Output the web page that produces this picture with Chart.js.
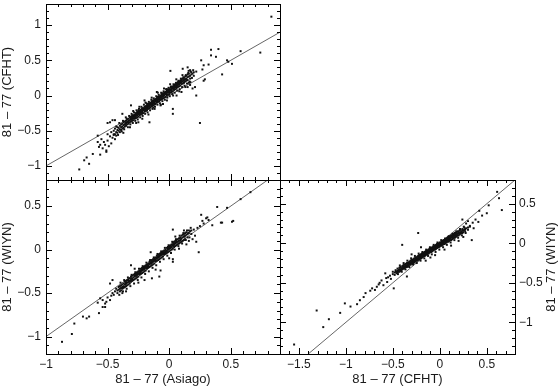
<!DOCTYPE html>
<html>
<head>
<meta charset="utf-8">
<script src="https://cdn.jsdelivr.net/npm/chart.js@4/dist/chart.umd.min.js"></script>
<style>
  html, body { margin: 0; padding: 0; background: #fff; }
  body { width: 560px; height: 391px; position: relative; overflow: hidden; }
  .panel { position: absolute; }
</style>
</head>
<body>
<div class="panel" style="left:0;top:0;width:290px;height:190px"><canvas id="c1" width="290" height="190"></canvas></div>
<div class="panel" style="left:0;top:170px;width:290px;height:221px"><canvas id="c2" width="290" height="221"></canvas></div>
<div class="panel" style="left:270px;top:170px;width:290px;height:221px"><canvas id="c3" width="290" height="221"></canvas></div>
<script>
// ---------- data ----------
const titleAsiago = '81 – 77 (Asiago)';
const titleCFHT = '81 – 77 (CFHT)';
const titleWIYN = '81 – 77 (WIYN)';

const asiagoRange = [-1, 0.9];
const cfhtYRange = [-1.2, 1.3];
const wiynYRangeA = [-1.2, 0.8];
const cfhtXRange = [-1.7, 0.8];
const wiynYRangeB = [-1.4, 0.8];

// 1:1 reference line
const identityLine = [-2, 2];

// Panel 1: x = Asiago, y = CFHT
const cfhtVsAsiago = [
[-0.45,-0.50],[-0.45,-0.56],[-0.44,-0.47],[-0.44,-0.55],[-0.43,-0.52],[-0.43,-0.44],[-0.42,-0.49],[-0.42,-0.53],[-0.42,-0.45],
[-0.41,-0.50],[-0.41,-0.46],[-0.40,-0.43],[-0.40,-0.48],[-0.40,-0.52],[-0.39,-0.45],[-0.39,-0.41],[-0.39,-0.49],
[-0.38,-0.40],[-0.38,-0.44],[-0.38,-0.47],[-0.37,-0.42],[-0.37,-0.38],[-0.37,-0.46],[-0.36,-0.41],[-0.36,-0.37],[-0.36,-0.44],
[-0.35,-0.39],[-0.35,-0.36],[-0.35,-0.43],[-0.35,-0.40],[-0.34,-0.38],[-0.34,-0.34],[-0.34,-0.41],
[-0.33,-0.36],[-0.33,-0.33],[-0.33,-0.40],[-0.33,-0.38],[-0.32,-0.35],[-0.32,-0.31],[-0.32,-0.38],
[-0.31,-0.34],[-0.31,-0.30],[-0.31,-0.37],[-0.31,-0.32],[-0.30,-0.33],[-0.30,-0.29],[-0.30,-0.36],[-0.30,-0.31],
[-0.29,-0.32],[-0.29,-0.28],[-0.29,-0.35],[-0.29,-0.30],[-0.28,-0.30],[-0.28,-0.27],[-0.28,-0.33],[-0.28,-0.29],
[-0.27,-0.29],[-0.27,-0.25],[-0.27,-0.32],[-0.27,-0.27],[-0.26,-0.28],[-0.26,-0.24],[-0.26,-0.31],[-0.26,-0.26],
[-0.25,-0.27],[-0.25,-0.23],[-0.25,-0.30],[-0.25,-0.25],[-0.25,-0.21],[-0.24,-0.25],[-0.24,-0.22],[-0.24,-0.28],[-0.24,-0.24],
[-0.23,-0.24],[-0.23,-0.20],[-0.23,-0.27],[-0.23,-0.22],[-0.22,-0.23],[-0.22,-0.19],[-0.22,-0.26],[-0.22,-0.21],[-0.22,-0.24],
[-0.21,-0.21],[-0.21,-0.18],[-0.21,-0.25],[-0.21,-0.20],[-0.20,-0.20],[-0.20,-0.16],[-0.20,-0.23],[-0.20,-0.18],[-0.20,-0.21],
[-0.19,-0.19],[-0.19,-0.15],[-0.19,-0.22],[-0.19,-0.17],[-0.18,-0.17],[-0.18,-0.14],[-0.18,-0.21],[-0.18,-0.16],[-0.18,-0.19],
[-0.17,-0.16],[-0.17,-0.12],[-0.17,-0.19],[-0.17,-0.14],[-0.16,-0.15],[-0.16,-0.11],[-0.16,-0.18],[-0.16,-0.13],[-0.16,-0.16],
[-0.15,-0.13],[-0.15,-0.10],[-0.15,-0.17],[-0.15,-0.12],[-0.14,-0.12],[-0.14,-0.09],[-0.14,-0.15],[-0.14,-0.11],[-0.14,-0.13],
[-0.13,-0.11],[-0.13,-0.07],[-0.13,-0.14],[-0.13,-0.09],[-0.12,-0.10],[-0.12,-0.06],[-0.12,-0.13],[-0.12,-0.08],[-0.12,-0.11],
[-0.11,-0.08],[-0.11,-0.05],[-0.11,-0.12],[-0.11,-0.07],[-0.10,-0.07],[-0.10,-0.04],[-0.10,-0.10],[-0.10,-0.06],[-0.10,-0.08],
[-0.09,-0.06],[-0.09,-0.02],[-0.09,-0.09],[-0.09,-0.04],[-0.08,-0.04],[-0.08,-0.01],[-0.08,-0.08],[-0.08,-0.03],[-0.08,-0.06],
[-0.07,-0.03],[-0.07,0.00],[-0.07,-0.06],[-0.07,-0.02],[-0.06,-0.02],[-0.06,0.02],[-0.06,-0.05],[-0.06,-0.01],[-0.06,0.00],
[-0.05,-0.01],[-0.05,0.03],[-0.05,-0.04],[-0.05,0.01],[-0.04,0.01],[-0.04,0.04],[-0.04,-0.03],[-0.04,0.02],[-0.04,0.00],
[-0.03,0.02],[-0.03,0.05],[-0.03,-0.02],[-0.03,0.03],[-0.02,0.03],[-0.02,0.07],[-0.02,0.00],[-0.02,0.05],[-0.02,0.02],
[-0.01,0.05],[-0.01,0.08],[-0.01,0.01],[-0.01,0.06],[0.00,0.06],[0.00,0.09],[0.00,0.02],[0.00,0.07],[0.00,0.04],
[0.01,0.07],[0.01,0.11],[0.01,0.04],[0.01,0.08],[0.02,0.09],[0.02,0.12],[0.02,0.05],[0.02,0.10],[0.02,0.07],
[0.03,0.10],[0.03,0.13],[0.03,0.06],[0.03,0.11],[0.04,0.11],[0.04,0.15],[0.04,0.08],[0.04,0.13],[0.04,0.09],
[0.05,0.12],[0.05,0.16],[0.05,0.09],[0.05,0.14],[0.06,0.14],[0.06,0.17],[0.06,0.10],[0.06,0.15],[0.06,0.12],
[0.07,0.15],[0.07,0.19],[0.07,0.12],[0.07,0.17],[0.08,0.16],[0.08,0.20],[0.08,0.13],[0.08,0.18],
[0.09,0.18],[0.09,0.21],[0.09,0.14],[0.09,0.19],[0.10,0.19],[0.10,0.23],[0.10,0.16],[0.10,0.21],
[0.11,0.20],[0.11,0.24],[0.11,0.17],[0.12,0.22],[0.12,0.25],[0.12,0.18],[0.13,0.23],[0.13,0.27],[0.13,0.20],
[0.14,0.24],[0.14,0.28],[0.14,0.21],[0.15,0.26],[0.15,0.30],[0.15,0.22],[0.16,0.27],[0.16,0.31],[0.17,0.28],[0.17,0.24],
[0.18,0.30],[0.18,0.33],[0.19,0.31],[0.20,0.33],[0.20,0.28],[0.22,0.34],
[-0.415,-0.56],[-0.405,-0.39],[-0.385,-0.51],[-0.375,-0.36],[-0.365,-0.48],[-0.345,-0.33],[-0.335,-0.45],[-0.325,-0.29],
[-0.315,-0.41],[-0.305,-0.26],[-0.295,-0.39],[-0.285,-0.24],[-0.275,-0.36],[-0.265,-0.21],[-0.255,-0.34],[-0.245,-0.19],
[-0.235,-0.31],[-0.225,-0.16],[-0.215,-0.29],[-0.205,-0.13],[-0.195,-0.26],[-0.185,-0.11],[-0.175,-0.24],[-0.165,-0.09],
[-0.155,-0.21],[-0.145,-0.06],[-0.135,-0.19],[-0.125,-0.04],[-0.115,-0.16],[-0.105,-0.01],[-0.095,-0.13],[-0.085,0.01],
[-0.075,-0.11],[-0.065,0.04],[-0.055,-0.08],[-0.045,0.06],[-0.035,-0.06],[-0.025,0.09],[-0.015,-0.03],[-0.005,0.11],
[0.005,-0.01],[0.015,0.13],[0.025,0.02],[0.035,0.16],[0.045,0.04],[0.055,0.18],[0.065,0.07],[0.075,0.21],[0.085,0.09],
[0.095,0.24],[0.105,0.12],[0.115,0.26],[0.125,0.14],[0.135,0.29],[0.145,0.17],[0.155,0.32],[0.165,0.20],[0.175,0.34],
[0.185,0.25],[0.195,0.36],
[-0.355,-0.40],[-0.305,-0.34],[-0.265,-0.28],[-0.225,-0.22],[-0.185,-0.18],[-0.145,-0.12],[-0.105,-0.07],[-0.065,-0.03],
[-0.025,0.03],[0.015,0.08],[0.055,0.13],[0.095,0.18],[0.135,0.23],[-0.335,-0.37],[-0.245,-0.26],[-0.165,-0.15],[-0.085,-0.05],
[-0.005,0.05],[0.075,0.16],
[-0.372,-0.53],[-0.352,-0.31],[-0.318,-0.45],[-0.292,-0.22],[-0.268,-0.39],[-0.242,-0.16],[-0.218,-0.33],[-0.192,-0.10],
[-0.168,-0.27],[-0.142,-0.03],[-0.118,-0.19],[-0.092,0.04],[-0.068,-0.13],[-0.042,0.10],[-0.018,-0.07],[0.008,0.16],
[0.032,0.00],[0.058,0.23],[0.082,0.06],[0.108,0.29],[0.132,0.12],[0.158,0.35],[0.172,0.19],
[-0.278,-0.31],[-0.238,-0.25],[-0.198,-0.20],[-0.158,-0.14],[-0.118,-0.09],[-0.078,-0.04],[-0.038,0.02],[0.002,0.07],
[0.042,0.12],[0.082,0.17],[-0.298,-0.28],[-0.258,-0.23],[-0.218,-0.18],[-0.178,-0.12],[-0.138,-0.08],[-0.098,-0.02],
[-0.058,0.03],[-0.018,0.09],[0.022,0.11],[0.062,0.15],[0.102,0.22],[0.122,0.19],
[0.83,1.12],[0.74,0.61],[0.58,0.63],[0.51,0.45],[0.48,0.48],[0.43,0.30],[0.40,0.66],[0.34,0.65],[0.38,0.55],[0.28,0.21],
[0.26,0.50],[0.22,0.00],[0.25,-0.39],[0.03,-0.26],[0.03,-0.19],[0.01,0.35],[0.34,0.57],[0.28,0.43],[0.32,0.44],[0.27,0.37],
[0.47,0.50],[0.29,0.23],[0.11,0.38],[0.15,0.40],[0.17,0.36],
[-0.13,-0.17],[-0.07,-0.14],[-0.16,-0.38],[-0.31,-0.14],[-0.38,-0.26],[-0.46,-0.35],[-0.48,-0.38],[-0.20,-0.07],[0.15,0.12],
[0.17,0.15],[0.19,0.10],[0.16,0.18],[0.21,0.12],[0.10,0.05],[-0.05,-0.12],[0.06,0.00],[-0.25,-0.38],[-0.10,0.05],
[-0.55,-0.62],[-0.53,-0.66],[-0.52,-0.70],[-0.50,-0.64],[-0.49,-0.72],[-0.54,-0.75],[-0.51,-0.78],[-0.47,-0.68],[-0.46,-0.60],
[-0.48,-0.58],[-0.44,-0.62],[-0.50,-0.55],[-0.56,-0.70],[-0.58,-0.66],[-0.45,-0.55],[-0.43,-0.57],[-0.47,-0.52],
[-0.73,-1.05],[-0.69,-0.92],[-0.65,-0.97],[-0.67,-0.88],[-0.62,-0.83],[-0.57,-0.73],[-0.56,-0.84],[-0.51,-0.80],[-0.58,-0.57],
[-0.50,-0.39],[-0.44,-0.35]
];

// Panel 2: x = Asiago, y = WIYN
const wiynVsAsiago = [
[-0.42,-0.47],[-0.42,-0.50],[-0.41,-0.46],[-0.41,-0.43],[-0.40,-0.45],[-0.40,-0.48],[-0.40,-0.42],[-0.39,-0.44],[-0.39,-0.41],[-0.39,-0.47],
[-0.38,-0.43],[-0.38,-0.40],[-0.38,-0.45],[-0.37,-0.42],[-0.37,-0.39],[-0.37,-0.44],[-0.36,-0.40],[-0.36,-0.37],[-0.36,-0.43],
[-0.35,-0.39],[-0.35,-0.36],[-0.35,-0.42],[-0.35,-0.38],[-0.34,-0.38],[-0.34,-0.35],[-0.34,-0.41],
[-0.33,-0.37],[-0.33,-0.34],[-0.33,-0.40],[-0.33,-0.36],[-0.32,-0.36],[-0.32,-0.33],[-0.32,-0.39],
[-0.31,-0.35],[-0.31,-0.31],[-0.31,-0.37],[-0.31,-0.33],[-0.30,-0.33],[-0.30,-0.30],[-0.30,-0.36],[-0.30,-0.34],
[-0.29,-0.32],[-0.29,-0.29],[-0.29,-0.35],[-0.28,-0.31],[-0.28,-0.28],[-0.28,-0.34],[-0.28,-0.30],
[-0.27,-0.30],[-0.27,-0.27],[-0.27,-0.33],[-0.27,-0.29],[-0.26,-0.29],[-0.26,-0.26],[-0.26,-0.32],[-0.26,-0.28],
[-0.25,-0.28],[-0.25,-0.25],[-0.25,-0.31],[-0.25,-0.27],[-0.24,-0.27],[-0.24,-0.24],[-0.24,-0.29],[-0.24,-0.25],
[-0.23,-0.25],[-0.23,-0.22],[-0.23,-0.28],[-0.23,-0.24],[-0.22,-0.24],[-0.22,-0.21],[-0.22,-0.27],[-0.22,-0.23],
[-0.21,-0.23],[-0.21,-0.20],[-0.21,-0.26],[-0.21,-0.22],[-0.20,-0.22],[-0.20,-0.19],[-0.20,-0.25],[-0.20,-0.21],
[-0.19,-0.21],[-0.19,-0.18],[-0.19,-0.24],[-0.19,-0.20],[-0.18,-0.20],[-0.18,-0.17],[-0.18,-0.22],[-0.18,-0.19],
[-0.17,-0.19],[-0.17,-0.16],[-0.17,-0.21],[-0.17,-0.18],[-0.16,-0.17],[-0.16,-0.14],[-0.16,-0.20],[-0.16,-0.16],
[-0.15,-0.16],[-0.15,-0.13],[-0.15,-0.19],[-0.15,-0.15],[-0.14,-0.15],[-0.14,-0.12],[-0.14,-0.18],[-0.14,-0.14],
[-0.13,-0.14],[-0.13,-0.11],[-0.13,-0.17],[-0.13,-0.13],[-0.12,-0.13],[-0.12,-0.10],[-0.12,-0.16],[-0.12,-0.12],
[-0.11,-0.12],[-0.11,-0.09],[-0.11,-0.14],[-0.11,-0.11],[-0.10,-0.10],[-0.10,-0.07],[-0.10,-0.13],[-0.10,-0.09],
[-0.09,-0.09],[-0.09,-0.06],[-0.09,-0.12],[-0.09,-0.08],[-0.08,-0.08],[-0.08,-0.05],[-0.08,-0.11],[-0.08,-0.07],
[-0.07,-0.07],[-0.07,-0.04],[-0.07,-0.10],[-0.07,-0.06],[-0.06,-0.06],[-0.06,-0.03],[-0.06,-0.09],[-0.06,-0.05],
[-0.05,-0.05],[-0.05,-0.02],[-0.05,-0.08],[-0.05,-0.04],[-0.04,-0.04],[-0.04,-0.01],[-0.04,-0.06],[-0.04,-0.03],
[-0.03,-0.02],[-0.03,0.00],[-0.03,-0.05],[-0.03,-0.03],[-0.02,-0.01],[-0.02,0.02],[-0.02,-0.04],[-0.02,-0.02],
[-0.01,0.00],[-0.01,0.03],[-0.01,-0.03],[-0.01,0.01],[0.00,0.01],[0.00,0.04],[0.00,-0.02],[0.00,0.02],
[0.01,0.02],[0.01,0.05],[0.01,-0.01],[0.01,0.03],[0.02,0.03],[0.02,0.06],[0.02,0.00],[0.02,0.04],
[0.03,0.05],[0.03,0.08],[0.03,0.01],[0.03,0.06],[0.04,0.06],[0.04,0.09],[0.04,0.03],[0.04,0.07],
[0.05,0.07],[0.05,0.10],[0.05,0.04],[0.05,0.08],[0.06,0.08],[0.06,0.11],[0.06,0.05],[0.06,0.09],
[0.07,0.09],[0.07,0.12],[0.07,0.06],[0.08,0.10],[0.08,0.13],[0.08,0.07],[0.09,0.11],[0.09,0.14],[0.09,0.08],
[0.10,0.13],[0.10,0.16],[0.10,0.09],[0.11,0.14],[0.11,0.17],[0.11,0.10],[0.12,0.15],[0.12,0.18],[0.12,0.11],
[0.13,0.16],[0.13,0.19],[0.13,0.12],[0.14,0.17],[0.14,0.20],[0.15,0.18],[0.15,0.14],[0.16,0.19],[0.16,0.22],
[0.17,0.21],[0.18,0.22],[0.18,0.18],[0.20,0.23],
[-0.405,-0.52],[-0.395,-0.38],[-0.375,-0.48],[-0.365,-0.35],[-0.345,-0.45],[-0.335,-0.32],[-0.315,-0.42],[-0.305,-0.29],
[-0.285,-0.39],[-0.275,-0.26],[-0.255,-0.35],[-0.245,-0.22],[-0.225,-0.32],[-0.215,-0.19],[-0.195,-0.28],[-0.185,-0.15],
[-0.165,-0.25],[-0.155,-0.12],[-0.135,-0.21],[-0.125,-0.09],[-0.105,-0.18],[-0.095,-0.05],[-0.075,-0.14],[-0.065,-0.02],
[-0.045,-0.11],[-0.035,0.02],[-0.015,-0.07],[-0.005,0.05],[0.015,-0.04],[0.025,0.09],[0.045,0.00],[0.055,0.12],
[0.075,0.04],[0.085,0.16],[0.105,0.07],[0.115,0.19],[0.135,0.11],[0.145,0.22],[0.165,0.14],[0.175,0.25],
[-0.385,-0.44],[-0.325,-0.37],[-0.265,-0.30],[-0.205,-0.23],[-0.145,-0.16],[-0.085,-0.09],[-0.025,-0.02],[0.035,0.05],
[0.095,0.12],[0.155,0.19],[-0.355,-0.40],[-0.235,-0.26],[-0.115,-0.12],[0.005,0.02],[0.125,0.15],
[-0.46,-0.35],[-0.31,-0.18],[-0.15,-0.03],[0.03,0.23],[-0.14,-0.33],[-0.07,-0.24],[0.03,-0.14],[0.03,-0.11],[-0.20,-0.35],
[0.00,-0.10],[-0.11,-0.23],[-0.08,-0.31],[0.22,0.09],[0.24,-0.03],[0.19,0.12],[0.16,0.10],[0.21,0.16],[0.12,0.22],[0.05,0.15],
[-0.25,-0.38],[-0.35,-0.48],[-0.28,-0.22],[-0.38,-0.50],[0.08,0.01],[0.14,0.06],
[0.26,0.40],[0.30,0.36],[0.32,0.34],[0.35,0.28],[0.39,0.49],[0.42,0.31],[0.47,0.48],[0.51,0.32],[0.58,0.58],[0.66,0.66],
[0.27,0.33],[0.31,0.37],[0.25,0.27],[0.23,0.25],[0.28,0.30],[0.52,0.33],[0.43,0.31],
[-0.87,-1.06],[-0.79,-0.97],[-0.77,-0.85],[-0.70,-0.77],[-0.67,-0.79],[-0.65,-0.77],[-0.57,-0.73],[-0.58,-0.61],[-0.54,-0.58],
[-0.52,-0.62],[-0.51,-0.60],[-0.48,-0.58],[-0.52,-0.66],[-0.47,-0.53],[-0.44,-0.48],[-0.48,-0.39],[-0.54,-0.66],[-0.56,-0.56],
[-0.50,-0.55],[-0.45,-0.52],[-0.43,-0.45],[-0.46,-0.50]
];

// Panel 3: x = CFHT, y = WIYN
const wiynVsCfht = [
[-0.50,-0.39],[-0.50,-0.36],[-0.48,-0.37],[-0.48,-0.40],[-0.47,-0.36],[-0.47,-0.34],[-0.46,-0.36],[-0.46,-0.38],
[-0.45,-0.35],[-0.45,-0.32],[-0.45,-0.37],[-0.44,-0.34],[-0.44,-0.36],[-0.43,-0.33],[-0.43,-0.31],[-0.43,-0.36],
[-0.42,-0.33],[-0.42,-0.35],[-0.42,-0.30],[-0.41,-0.32],[-0.41,-0.34],[-0.40,-0.31],[-0.40,-0.29],[-0.40,-0.33],
[-0.39,-0.30],[-0.39,-0.32],[-0.39,-0.28],[-0.38,-0.30],[-0.38,-0.27],[-0.38,-0.32],[-0.37,-0.29],[-0.37,-0.31],[-0.37,-0.27],
[-0.36,-0.28],[-0.36,-0.26],[-0.36,-0.30],[-0.35,-0.28],[-0.35,-0.25],[-0.35,-0.30],[-0.34,-0.27],[-0.34,-0.29],[-0.34,-0.25],
[-0.33,-0.26],[-0.33,-0.24],[-0.33,-0.28],[-0.32,-0.25],[-0.32,-0.27],[-0.32,-0.23],[-0.31,-0.25],[-0.31,-0.22],[-0.31,-0.27],
[-0.30,-0.24],[-0.30,-0.21],[-0.30,-0.26],[-0.30,-0.23],[-0.29,-0.23],[-0.29,-0.25],[-0.29,-0.21],
[-0.28,-0.22],[-0.28,-0.20],[-0.28,-0.25],[-0.28,-0.23],[-0.27,-0.22],[-0.27,-0.19],[-0.27,-0.24],
[-0.26,-0.21],[-0.26,-0.18],[-0.26,-0.23],[-0.26,-0.20],[-0.25,-0.20],[-0.25,-0.18],[-0.25,-0.22],
[-0.24,-0.20],[-0.24,-0.17],[-0.24,-0.22],[-0.24,-0.19],[-0.23,-0.19],[-0.23,-0.16],[-0.23,-0.21],
[-0.22,-0.18],[-0.22,-0.15],[-0.22,-0.20],[-0.22,-0.17],[-0.21,-0.17],[-0.21,-0.15],[-0.21,-0.19],
[-0.20,-0.17],[-0.20,-0.14],[-0.20,-0.19],[-0.20,-0.16],[-0.19,-0.16],[-0.19,-0.13],[-0.19,-0.18],
[-0.18,-0.15],[-0.18,-0.12],[-0.18,-0.17],[-0.18,-0.14],[-0.17,-0.14],[-0.17,-0.12],[-0.17,-0.16],
[-0.16,-0.14],[-0.16,-0.11],[-0.16,-0.16],[-0.16,-0.13],[-0.15,-0.13],[-0.15,-0.10],[-0.15,-0.15],[-0.15,-0.12],
[-0.14,-0.12],[-0.14,-0.09],[-0.14,-0.14],[-0.14,-0.11],[-0.13,-0.12],[-0.13,-0.09],[-0.13,-0.14],[-0.13,-0.11],
[-0.12,-0.11],[-0.12,-0.08],[-0.12,-0.13],[-0.12,-0.10],[-0.11,-0.10],[-0.11,-0.07],[-0.11,-0.12],[-0.11,-0.09],
[-0.10,-0.09],[-0.10,-0.06],[-0.10,-0.11],[-0.10,-0.08],[-0.09,-0.09],[-0.09,-0.06],[-0.09,-0.11],[-0.09,-0.07],
[-0.08,-0.08],[-0.08,-0.05],[-0.08,-0.10],[-0.08,-0.07],[-0.07,-0.07],[-0.07,-0.04],[-0.07,-0.09],[-0.07,-0.06],
[-0.06,-0.06],[-0.06,-0.04],[-0.06,-0.08],[-0.06,-0.05],[-0.05,-0.06],[-0.05,-0.03],[-0.05,-0.08],[-0.05,-0.05],
[-0.04,-0.05],[-0.04,-0.02],[-0.04,-0.07],[-0.04,-0.04],[-0.03,-0.04],[-0.03,-0.01],[-0.03,-0.06],[-0.03,-0.03],
[-0.02,-0.03],[-0.02,-0.01],[-0.02,-0.05],[-0.02,-0.02],[-0.01,-0.03],[-0.01,0.00],[-0.01,-0.05],[-0.01,-0.02],
[0.00,-0.02],[0.00,0.01],[0.00,-0.04],[0.00,-0.01],[0.01,-0.01],[0.01,0.01],[0.01,-0.03],[0.01,0.00],
[0.02,-0.01],[0.02,0.02],[0.02,-0.03],[0.02,0.00],[0.03,0.00],[0.03,0.03],[0.03,-0.02],[0.03,0.01],
[0.04,0.01],[0.04,0.04],[0.04,-0.01],[0.04,0.02],[0.05,0.02],[0.05,0.04],[0.05,-0.01],[0.05,0.03],
[0.06,0.02],[0.06,0.05],[0.06,0.00],[0.06,0.03],[0.07,0.03],[0.07,0.06],[0.07,0.01],[0.07,0.04],
[0.08,0.04],[0.08,0.07],[0.08,0.02],[0.08,0.05],[0.09,0.05],[0.09,0.08],[0.09,0.02],[0.09,0.06],
[0.10,0.05],[0.10,0.08],[0.10,0.03],[0.10,0.06],[0.11,0.06],[0.11,0.09],[0.11,0.04],[0.11,0.07],
[0.12,0.07],[0.12,0.10],[0.12,0.04],[0.12,0.08],[0.13,0.08],[0.13,0.10],[0.13,0.05],[0.13,0.09],
[0.14,0.08],[0.14,0.11],[0.14,0.06],[0.14,0.09],[0.15,0.09],[0.15,0.12],[0.15,0.07],[0.15,0.10],
[0.16,0.10],[0.16,0.13],[0.16,0.07],[0.16,0.11],[0.17,0.10],[0.17,0.13],[0.17,0.08],
[0.18,0.11],[0.18,0.14],[0.18,0.09],[0.18,0.12],[0.19,0.12],[0.19,0.15],[0.19,0.10],
[0.20,0.13],[0.20,0.15],[0.20,0.10],[0.21,0.13],[0.21,0.16],[0.21,0.11],[0.22,0.14],[0.22,0.17],[0.22,0.12],
[0.23,0.15],[0.23,0.13],[0.24,0.16],[0.24,0.18],[0.24,0.13],[0.25,0.16],[0.25,0.14],[0.26,0.17],[0.26,0.20],
[0.27,0.18],[0.27,0.15],[0.28,0.19],[0.30,0.20],[0.30,0.17],[0.32,0.21],
[-0.445,-0.39],[-0.425,-0.28],[-0.405,-0.36],[-0.385,-0.25],[-0.365,-0.33],[-0.345,-0.22],[-0.325,-0.30],[-0.305,-0.19],
[-0.285,-0.27],[-0.265,-0.16],[-0.245,-0.25],[-0.225,-0.13],[-0.205,-0.22],[-0.185,-0.11],[-0.165,-0.19],[-0.145,-0.08],
[-0.125,-0.16],[-0.105,-0.05],[-0.085,-0.14],[-0.065,-0.02],[-0.045,-0.11],[-0.025,0.01],[-0.005,-0.08],[0.015,0.04],
[0.035,-0.05],[0.055,0.06],[0.075,-0.02],[0.095,0.09],[0.115,0.01],[0.135,0.12],[0.155,0.04],[0.175,0.15],[0.195,0.07],
[0.215,0.18],[0.235,0.10],[0.255,0.21],[0.275,0.13],
[-0.435,-0.34],[-0.395,-0.31],[-0.335,-0.27],[-0.275,-0.22],[-0.215,-0.18],[-0.155,-0.13],[-0.095,-0.09],[-0.035,-0.05],
[0.025,-0.01],[0.085,0.04],[0.145,0.08],[0.205,0.13],[0.265,0.17],[-0.305,-0.24],[-0.185,-0.16],[-0.065,-0.07],[0.055,0.02],
[0.175,0.11],
[-0.40,-0.02],[-0.23,0.13],[-0.58,-0.38],[-0.49,-0.57],[-0.35,-0.42],[0.34,0.04],[0.24,0.30],[0.36,0.19],[0.32,0.22],
[0.41,0.27],[0.42,0.41],[0.50,0.38],[0.52,0.48],[0.63,0.57],[0.66,0.42],[0.61,0.65],[0.28,0.25],[0.30,0.28],[0.35,0.26],
[0.38,0.30],[0.45,0.35],[-0.10,-0.18],[-0.05,-0.15],[0.12,-0.03],[0.20,0.03],[0.25,0.08],[-0.20,-0.05],[-0.30,-0.14],
[-0.15,-0.22],[0.05,-0.08],
[-1.55,-1.28],[-1.31,-0.85],[-1.24,-1.06],[-1.18,-0.96],[-1.06,-0.88],[-1.01,-0.76],[-0.95,-0.80],[-0.88,-0.77],[-0.85,-0.72],
[-0.81,-0.68],[-0.79,-0.63],[-0.74,-0.60],[-0.72,-0.57],[-0.69,-0.59],[-0.67,-0.55],[-0.60,-0.53],[-0.56,-0.49],[-0.64,-0.50],
[-0.62,-0.47],[-0.55,-0.43],[-0.53,-0.41],[-0.52,-0.45],[-0.57,-0.44],[-0.65,-0.52]
];

// ---------- rendering ----------
const FONT = 'Liberation Sans, Arial, Helvetica, sans-serif';
const TXT = '#1a1a1a';
const TICK_FONT = { family: FONT, size: 12 };
const TITLE_FONT = { family: FONT, size: 13 };
const fmt = v => String(Math.round(v * 10) / 10).replace('-', '\u2212');
const majorTicks = s => {
  const t = [];
  for (let k = Math.ceil(s.min / 0.5 - 1e-9); k * 0.5 <= s.max + 1e-9; k++) t.push({ value: k * 0.5 });
  s.ticks = t;
};

const frameTicks = {
  id: 'frameTicks',
  afterDatasetsDraw(chart) {
    const { ctx, chartArea: a, scales: { x, y } } = chart;
    ctx.save();
    ctx.strokeStyle = '#000';
    ctx.lineWidth = 1;
    ctx.beginPath();
    const step = 0.1;
    for (let i = Math.ceil(x.min / step - 1e-9); i * step <= x.max + 1e-9; i++) {
      const px = Math.round(x.getPixelForValue(i * step)) + 0.5;
      const len = (i % 5 === 0) ? 6 : 3;
      ctx.moveTo(px, a.bottom); ctx.lineTo(px, a.bottom - len);
      ctx.moveTo(px, a.top); ctx.lineTo(px, a.top + len);
    }
    for (let i = Math.ceil(y.min / step - 1e-9); i * step <= y.max + 1e-9; i++) {
      const py = Math.round(y.getPixelForValue(i * step)) + 0.5;
      const len = (i % 5 === 0) ? 6 : 3;
      ctx.moveTo(a.left, py); ctx.lineTo(a.left + len, py);
      ctx.moveTo(a.right, py); ctx.lineTo(a.right - len, py);
    }
    ctx.stroke();
    ctx.strokeRect(Math.round(a.left) + 0.5, Math.round(a.top) + 0.5,
                   Math.round(a.right - a.left), Math.round(a.bottom - a.top));
    ctx.restore();
  }
};

const rightTitle = {
  id: 'rightTitle',
  afterDraw(chart, args, opts) {
    if (!opts || !opts.text) return;
    const { ctx, chartArea: a } = chart;
    ctx.save();
    ctx.fillStyle = TXT;
    ctx.font = TITLE_FONT.size + 'px ' + FONT;
    ctx.textAlign = 'center';
    ctx.textBaseline = 'middle';
    ctx.translate(chart.width - 9, (a.top + a.bottom) / 2);
    ctx.rotate(-Math.PI / 2);
    ctx.fillText(opts.text, 0, 0);
    ctx.restore();
  }
};

function makeChart(id, cfg) {
  const pts = cfg.points.map(p => ({ x: p[0], y: p[1] }));
  const line = identityLine.map(v => ({ x: v, y: v }));
  return new Chart(document.getElementById(id), {
    type: 'scatter',
    data: {
      datasets: [
        { type: 'line', data: line, borderColor: '#555', borderWidth: 0.9,
          pointRadius: 0, fill: false, order: 2 },
        { data: pts, pointStyle: 'rect', pointRadius: 1.4, borderWidth: 0,
          backgroundColor: '#111', order: 1 }
      ]
    },
    options: {
      responsive: false,
      animation: false,
      devicePixelRatio: 1,
      layout: { padding: cfg.padding },
      plugins: { legend: { display: false }, tooltip: { enabled: false },
                 rightTitle: { text: cfg.rightTitle || '' } },
      scales: {
        x: {
          type: 'linear', position: 'bottom',
          min: cfg.xRange[0], max: cfg.xRange[1],
          display: cfg.showX,
          grid: { display: false, drawTicks: false, tickLength: 0 },
          border: { display: false },
          afterBuildTicks: majorTicks,
          ticks: { padding: 3, maxRotation: 0, autoSkip: false, color: TXT,
                   font: TICK_FONT, callback: fmt },
          title: { display: !!cfg.xTitle, text: cfg.xTitle, color: TXT,
                   font: TITLE_FONT, padding: { top: 0, bottom: 4 } },
          afterFit: s => { s.height = cfg.showX ? 37 : 0; s.paddingLeft = 0; s.paddingRight = 0; }
        },
        y: {
          type: 'linear', position: cfg.yPos,
          min: cfg.yRange[0], max: cfg.yRange[1],
          grid: { display: false, drawTicks: false, tickLength: 0 },
          border: { display: false },
          afterBuildTicks: majorTicks,
          ticks: { padding: cfg.yPos === 'left' ? 5 : 4, autoSkip: false, color: TXT,
                   font: TICK_FONT, callback: fmt },
          title: { display: !!cfg.yTitle, text: cfg.yTitle, color: TXT,
                   font: TITLE_FONT, padding: { top: 0, bottom: 0 } },
          afterFit: s => { s.width = cfg.yWidth; s.paddingTop = 0; s.paddingBottom = 0; }
        }
      }
    },
    plugins: [frameTicks, rightTitle]
  });
}

makeChart('c1', {
  points: cfhtVsAsiago, xRange: asiagoRange, yRange: cfhtYRange,
  showX: false, yPos: 'left', yTitle: titleCFHT, yWidth: 46,
  padding: { top: 4, right: 10, bottom: 10, left: 0 }
});
makeChart('c2', {
  points: wiynVsAsiago, xRange: asiagoRange, yRange: wiynYRangeA,
  showX: true, xTitle: titleAsiago, yPos: 'left', yTitle: titleWIYN, yWidth: 46,
  padding: { top: 10, right: 10, bottom: 0, left: 0 }
});
makeChart('c3', {
  points: wiynVsCfht, xRange: cfhtXRange, yRange: wiynYRangeB,
  showX: true, xTitle: titleCFHT, yPos: 'right', rightTitle: titleWIYN, yWidth: 45,
  padding: { top: 10, right: 0, bottom: 0, left: 10 }
});
</script>
</body>
</html>
